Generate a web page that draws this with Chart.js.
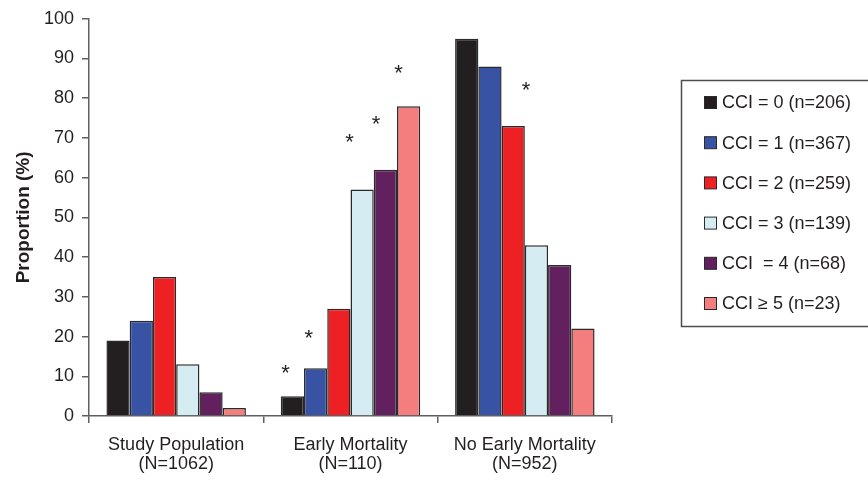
<!DOCTYPE html>
<html>
<head>
<meta charset="utf-8">
<script src="https://cdn.jsdelivr.net/npm/chart.js@4.4.0/dist/chart.umd.min.js"></script>
<style>
  html, body { margin: 0; padding: 0; background: #fff; }
</style>
</head>
<body>
<canvas id="grafico" width="868" height="485"></canvas>
<script>
// Dados
const categorias = [['Study Population', '(N=1062)'], ['Early Mortality', '(N=110)'], ['No Early Mortality', '(N=952)']]
const nomesSeries = ['CCI = 0 (n=206)', 'CCI = 1 (n=367)', 'CCI = 2 (n=259)', 'CCI = 3 (n=139)', 'CCI  = 4 (n=68)', 'CCI \u2265 5 (n=23)']
const cci0 = [19, 5, 95]
const cci1 = [24, 12, 88]
const cci2 = [35, 27, 73]
const cci3 = [13, 57, 43]
const cci4 = [6, 62, 38]
const cci5 = [2, 78, 22]
const ticksY = [0, 10, 20, 30, 40, 50, 60, 70, 80, 90, 100]

// asteriscos: série, categoria, nível no eixo (%)
const asteriscos = [
  { serie: 0, cat: 1, nivel: 12.4 },
  { serie: 1, cat: 1, nivel: 21.2 },
  { serie: 3, cat: 1, nivel: 70.5 },
  { serie: 4, cat: 1, nivel: 74.9 },
  { serie: 5, cat: 1, nivel: 87.9 },
  { serie: 2, cat: 2, nivel: 83.6 }
]
// deslocamento horizontal de cada asterisco, em larguras de barra
const desvioAsterisco = [-0.3, -0.3, -0.54, -0.4, -0.43, 0.55]

const cores = ['#231f20', '#3953a4', '#ed2024', '#d4ecf2', '#63205f', '#f47d7e']
const valores = [cci0, cci1, cci2, cci3, cci4, cci5]
const fonte = 'Liberation Sans, Arial, Helvetica, sans-serif'
const corTexto = '#231f20'
const corEixo = '#5f6062'

let datasets = valores.map((v, i) => ({
  label: nomesSeries[i],
  data: v,
  backgroundColor: cores[i],
  borderColor: '#2b2a2b',
  borderWidth: 1.5,
  categoryPercentage: 0.8,
  barPercentage: 1.0
}))

// Asteriscos de significância
const pluginAsteriscos = {
  id: 'asteriscos',
  afterDatasetsDraw(chart) {
    const ctx = chart.ctx
    ctx.save()
    ctx.fillStyle = corTexto
    ctx.font = '22px ' + fonte
    ctx.textAlign = 'center'
    ctx.textBaseline = 'alphabetic'
    asteriscos.forEach((a, i) => {
      const barra = chart.getDatasetMeta(a.serie).data[a.cat]
      const x = barra.x + desvioAsterisco[i] * barra.width
      const y = chart.scales.y.getPixelForValue(a.nivel)
      ctx.fillText('*', x, y + 13)
    })
    ctx.restore()
  }
}

// Legenda com caixa, desenhada à direita
const pluginLegenda = {
  id: 'legendaCaixa',
  afterDraw(chart) {
    const ctx = chart.ctx
    ctx.save()
    ctx.strokeStyle = '#4d4d4f'
    ctx.lineWidth = 1.5
    ctx.strokeRect(681.5, 80.5, 200, 246)
    ctx.font = '18px ' + fonte
    ctx.textBaseline = 'middle'
    ctx.textAlign = 'left'
    chart.data.datasets.forEach((ds, i) => {
      const yc = 102.5 + i * 40.2
      ctx.fillStyle = ds.backgroundColor
      ctx.fillRect(704.5, yc - 6, 12, 12)
      ctx.strokeStyle = '#2b2a2b'
      ctx.lineWidth = 1
      ctx.strokeRect(704.5, yc - 6, 12, 12)
      ctx.fillStyle = corTexto
      ctx.fillText(ds.label, 722, yc + 1)
    })
    ctx.restore()
  }
}

const ctx = document.getElementById('grafico')
new Chart(ctx, {
  type: 'bar',
  data: {
    labels: categorias,
    datasets: datasets
  },
  options: {
    responsive: false,
    animation: false,
    devicePixelRatio: 1,
    layout: { padding: { top: 14, right: 256, bottom: 0, left: 0 } },
    plugins: {
      legend: { display: false },
      tooltip: { enabled: false }
    },
    scales: {
      x: {
        grid: { display: true, drawOnChartArea: false, drawTicks: true, tickLength: 7, color: corEixo, lineWidth: 1.5, offset: true },
        border: { display: true, color: corEixo, width: 1.5 },
        ticks: { color: corTexto, font: { family: fonte, size: 18, lineHeight: 1.08 }, padding: 12, maxRotation: 0 },
        afterFit(escala) { escala.height = 69 }
      },
      y: {
        min: 0,
        max: 100,
        afterBuildTicks(escala) { escala.ticks = ticksY.map(v => ({ value: v })) },
        grid: { display: true, drawOnChartArea: false, drawTicks: true, tickLength: 7, color: corEixo, lineWidth: 1.5 },
        border: { display: true, color: corEixo, width: 1.5 },
        ticks: { color: corTexto, font: { family: fonte, size: 18 }, padding: 8 },
        title: { display: true, text: 'Proportion (%)', color: corTexto, font: { family: fonte, size: 19, weight: 'bold' }, padding: { top: 12, bottom: 4 } },
        afterFit(escala) { escala.width = 89 }
      }
    }
  },
  plugins: [pluginAsteriscos, pluginLegenda]
})
</script>
</body>
</html>
